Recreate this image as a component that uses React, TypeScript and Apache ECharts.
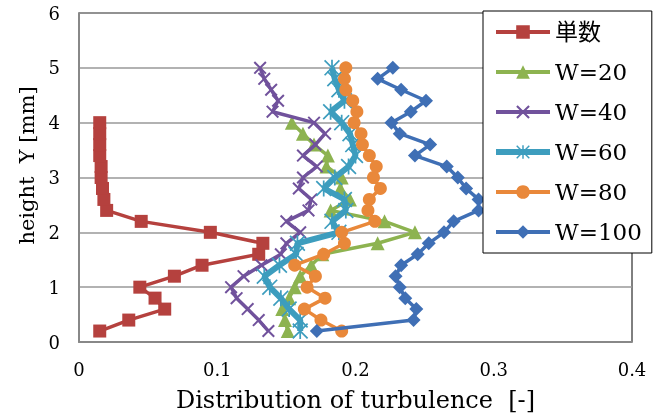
import React, { useEffect, useRef } from "react";
import * as echarts from "echarts";

const seriesNames = ["単数", "W=20", "W=40", "W=60", "W=80", "W=100"];
const xTicks = [0, 0.1, 0.2, 0.3, 0.4];
const yTicks = [0, 1, 2, 3, 4, 5, 6];

const heights20 = [0.2, 0.4, 0.6, 0.8, 1.0, 1.2, 1.4, 1.6, 1.8, 2.0, 2.2, 2.4, 2.6, 2.8, 3.0, 3.2, 3.4, 3.6, 3.8, 4.0];
const heights25 = [0.2, 0.4, 0.6, 0.8, 1.0, 1.2, 1.4, 1.6, 1.8, 2.0, 2.2, 2.4, 2.6, 2.8, 3.0, 3.2, 3.4, 3.6, 3.8, 4.0, 4.2, 4.4, 4.6, 4.8, 5.0];

const single = [0.015, 0.036, 0.062, 0.055, 0.044, 0.069, 0.089, 0.130, 0.133, 0.095, 0.045, 0.020, 0.018, 0.017, 0.016, 0.016, 0.015, 0.015, 0.015, 0.015];
const w20 = [0.151, 0.149, 0.147, 0.152, 0.156, 0.160, 0.168, 0.176, 0.216, 0.243, 0.221, 0.182, 0.196, 0.189, 0.190, 0.179, 0.180, 0.170, 0.162, 0.154];
const w40 = [0.137, 0.130, 0.122, 0.114, 0.110, 0.119, 0.132, 0.146, 0.150, 0.160, 0.150, 0.166, 0.168, 0.159, 0.162, 0.172, 0.162, 0.171, 0.178, 0.170, 0.140, 0.144, 0.139, 0.134, 0.131];
const w60 = [0.160, 0.160, 0.152, 0.146, 0.138, 0.134, 0.145, 0.157, 0.158, 0.188, 0.183, 0.193, 0.192, 0.177, 0.185, 0.195, 0.200, 0.198, 0.196, 0.190, 0.182, 0.192, 0.188, 0.185, 0.183];
const w80 = [0.190, 0.175, 0.163, 0.178, 0.165, 0.171, 0.156, 0.177, 0.192, 0.190, 0.214, 0.209, 0.210, 0.218, 0.213, 0.215, 0.210, 0.205, 0.204, 0.199, 0.201, 0.198, 0.193, 0.192, 0.193];
const w100 = [0.172, 0.242, 0.244, 0.236, 0.232, 0.229, 0.233, 0.245, 0.253, 0.264, 0.271, 0.289, 0.289, 0.280, 0.274, 0.266, 0.243, 0.254, 0.232, 0.226, 0.240, 0.251, 0.233, 0.216, 0.227];

const colors = ["#B5413E", "#8DB350", "#71529C", "#3D9DBE", "#E9883A", "#3F6FB5"];

const CROSS = "path://M0,1.3 L1.3,0 L12,10.7 L10.7,12 Z M10.7,0 L12,1.3 L1.3,12 L0,10.7 Z";
const STAR = "path://M5.35,0 L6.65,0 L6.65,12 L5.35,12 Z M0,0.9 L0.9,0 L12,11.1 L11.1,12 Z M11.1,0 L12,0.9 L0.9,12 L0,11.1 Z";

const FONT = '"DejaVu Serif", "Noto Sans CJK JP", serif';

function pairs(xs: number[], ys: number[]) {
  return xs.map((x, i) => [x, ys[i]]);
}

export default function App() {
  const ref = useRef<HTMLDivElement>(null);
  useEffect(() => {
    if (!ref.current) return;
    const chart = echarts.init(ref.current, null, { renderer: "svg" });
    const dataSets = [
      pairs(single, heights20),
      pairs(w20, heights20),
      pairs(w40, heights25),
      pairs(w60, heights25),
      pairs(w80, heights25),
      pairs(w100, heights25),
    ];
    const symbols = ["rect", "triangle", CROSS, STAR, "circle", "diamond"];
    const sizes = [13, 14, 13, 16, 13, 14];
    const widths = [3.5, 3.5, 3.5, 6, 3.5, 3.5];
    chart.setOption({
      animation: false,
      textStyle: { fontFamily: FONT, color: "#000" },
      grid: {
        left: 79,
        right: 35,
        top: 13,
        bottom: 77,
        show: true,
        borderColor: "#000",
        borderWidth: 1,
        backgroundColor: "transparent",
      },
      legend: {
        orient: "vertical",
        left: 483,
        top: 11,
        padding: [9, 10, 9, 10],
        itemGap: 16,
        itemWidth: 54,
        itemHeight: 17,
        backgroundColor: "#fff",
        borderColor: "#000",
        borderWidth: 1,
        z: 10,
        textStyle: { fontFamily: FONT, fontSize: 23, lineHeight: 24, color: "#000" },
        data: seriesNames.map((name, i) => ({
          name,
          lineStyle: { width: i === 3 ? 6 : 4, color: colors[i] },
        })),
      },
      xAxis: {
        type: "value",
        min: xTicks[0],
        max: xTicks[xTicks.length - 1],
        interval: 0.1,
        name: "Distribution of turbulence  [-]",
        nameLocation: "middle",
        nameGap: 46,
        nameTextStyle: { fontFamily: FONT, fontSize: 24, color: "#000" },
        axisLine: { show: true, lineStyle: { color: "#888", width: 2 } },
        axisTick: { show: false },
        splitLine: { show: false },
        axisLabel: { fontFamily: FONT, fontSize: 18, color: "#000", margin: 18 },
      },
      yAxis: {
        type: "value",
        min: yTicks[0],
        max: yTicks[yTicks.length - 1],
        interval: 1,
        name: "height  Y [mm]",
        nameLocation: "middle",
        nameGap: 41,
        nameRotate: 90,
        nameTextStyle: { fontFamily: FONT, fontSize: 21, color: "#000", padding: [0, 0, 0, 24] },
        axisLine: { show: true, lineStyle: { color: "#888", width: 2 } },
        axisTick: { show: false },
        splitLine: { show: true, lineStyle: { color: "#999", width: 1.5 } },
        axisLabel: { fontFamily: FONT, fontSize: 18, color: "#000", margin: 19 },
      },
      series: seriesNames.map((name, i) => ({
        name,
        type: "line",
        data: dataSets[i],
        symbol: symbols[i],
        symbolSize: sizes[i],
        showAllSymbol: true,
        z: 2 + i,
        lineStyle: { color: colors[i], width: widths[i] },
        itemStyle: { color: colors[i] },
        emphasis: { disabled: true },
      })),
    });
    return () => chart.dispose();
  }, []);
  return (
    <div
      ref={ref}
      style={{ position: "fixed", left: 0, top: 0, width: 667, height: 419 }}
    />
  );
}
